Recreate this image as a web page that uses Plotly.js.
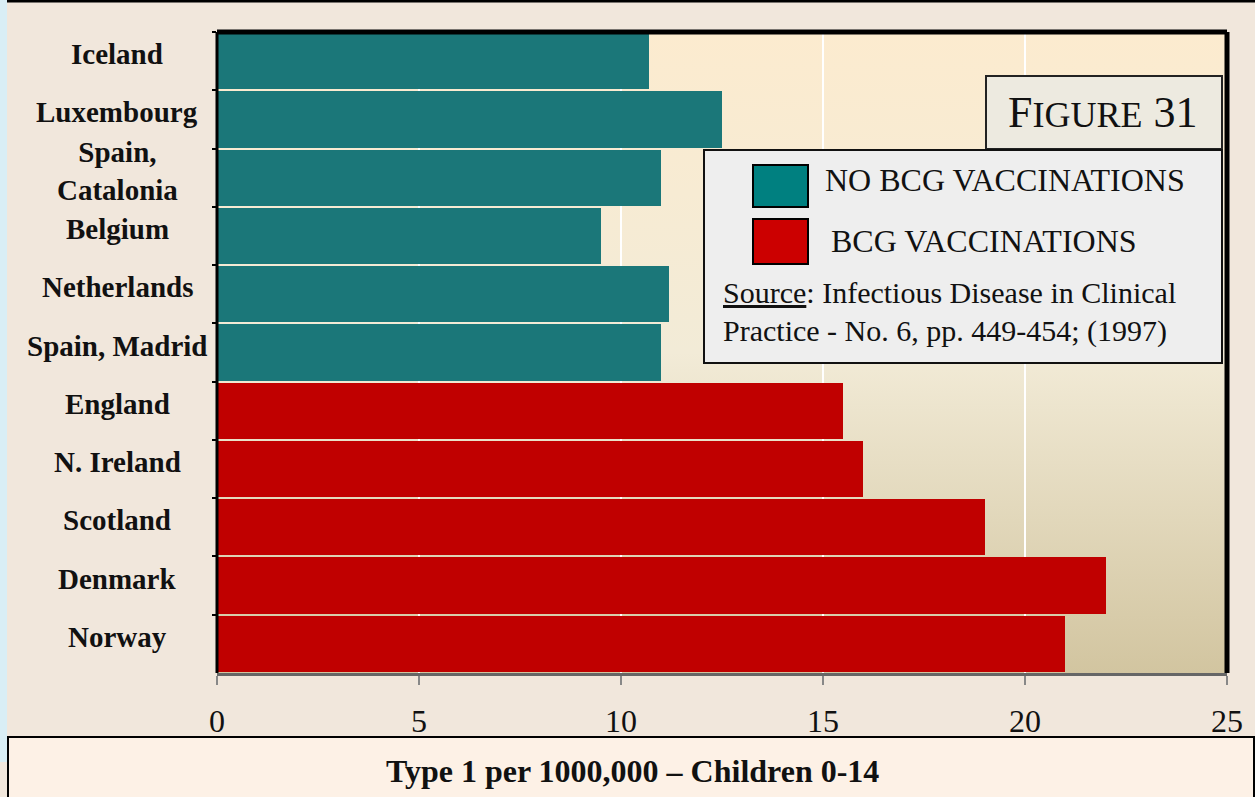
<!DOCTYPE html>
<html><head><meta charset="utf-8">
<script src="https://cdn.plot.ly/plotly-3.0.1.min.js"></script>
<style>html,body{margin:0;padding:0;background:#f1e7dc;overflow:hidden}</style>
</head><body><div id="chart" style="width:1255px;height:797px"></div>
<script>
// ---- data ----
const noBcgCountries = ['Iceland','Luxembourg','Spain, Catalonia','Belgium','Netherlands','Spain, Madrid'];
const noBcgValues = [10.7, 12.5, 11.0, 9.5, 11.2, 11.0];
const bcgCountries = ['England','N. Ireland','Scotland','Denmark','Norway'];
const bcgValues = [15.5, 16.0, 19.0, 22.0, 21.0];
const countryLabels = {'Spain, Catalonia': 'Spain,<br>Catalonia'};
const xTickValues = [0, 5, 10, 15, 20, 25];
const seriesNames = ['NO BCG VACCINATIONS', 'BCG VACCINATIONS'];
const axisTitle = 'Type 1 per 1000,000 – Children 0-14';
const figureLabel = ['F', 'IGURE', ' 31'];
const sourceLines = ['<u>Source</u>: Infectious Disease in Clinical', 'Practice - No. 6, pp. 449-454; (1997)'];

// ---- styling / geometry ----
const W = 1255, H = 797, L = 217, R = 28, T = 32, B = 124;
const PW = W - L - R, PH = H - T - B;
const px = x => (x - L) / PW;
const py = y => (H - B - y) / PH;
const FONT = 'Liberation Serif, Times New Roman, serif';
const barColors = ['#1b7779', '#c00000'];
const swatchColors = ['#008080', '#cc0000'];
const allCountries = noBcgCountries.concat(bcgCountries);

const traces = [
  {type: 'bar', orientation: 'h', name: seriesNames[0], y: noBcgCountries, x: noBcgValues,
   marker: {color: barColors[0], line: {width: 0}}, showlegend: false},
  {type: 'bar', orientation: 'h', name: seriesNames[1], y: bcgCountries, x: bcgValues,
   marker: {color: barColors[1], line: {width: 0}}, showlegend: false}
];

const grad = "<svg xmlns='http://www.w3.org/2000/svg' width='100' height='100' preserveAspectRatio='none'><defs><linearGradient id='g' x1='0' y1='0' x2='0' y2='1'><stop offset='0' stop-color='#fcebcf'/><stop offset='0.5' stop-color='#f2ebd7'/><stop offset='1' stop-color='#d2c5a0'/></linearGradient></defs><rect width='100' height='100' fill='url(#g)'/></svg>";

const shapes = [
  {type:'rect', xref:'paper', yref:'paper', x0:px(0), x1:px(7), y0:py(762), y1:py(0), fillcolor:'#d9eef5', line:{width:0}, layer:'below'},
  {type:'line', xref:'paper', yref:'paper', x0:px(7), x1:px(1255), y0:py(1), y1:py(1), line:{color:'#000', width:3}},
  {type:'rect', xref:'paper', yref:'paper', x0:px(8), x1:px(1254), y0:py(805), y1:py(737), fillcolor:'#fdf1e6', line:{color:'#000', width:2}},
  // plot frame
  {type:'line', xref:'paper', yref:'paper', x0:0, x1:1, y0:1, y1:1, line:{color:'#000', width:5}},
  {type:'line', xref:'paper', yref:'paper', x0:1, x1:1, y0:0, y1:1, line:{color:'#000', width:5}},
  {type:'line', xref:'paper', yref:'paper', x0:0, x1:0, y0:0, y1:1, line:{color:'#000', width:3}},
  // figure box & legend box
  {type:'rect', xref:'paper', yref:'paper', x0:px(986), x1:px(1222), y0:py(149), y1:py(76), fillcolor:'#edeae0', line:{color:'#222', width:2}},
  {type:'rect', xref:'paper', yref:'paper', x0:px(704), x1:px(1222), y0:py(363), y1:py(150), fillcolor:'#eeeeee', line:{color:'#111', width:2}},
  {type:'rect', xref:'paper', yref:'paper', x0:px(753), x1:px(808), y0:py(207), y1:py(165), fillcolor:swatchColors[0], line:{color:'#000', width:2}},
  {type:'rect', xref:'paper', yref:'paper', x0:px(753), x1:px(808), y0:py(264), y1:py(219), fillcolor:swatchColors[1], line:{color:'#000', width:2}}
];

const annotations = [];
allCountries.forEach(c => {
  annotations.push({xref:'paper', yref:'y', x:0, y:c, xshift:-100, yshift:7, xanchor:'center', yanchor:'middle',
    text:'<b>' + (countryLabels[c] || c) + '</b>', showarrow:false, font:{family:FONT, size:29, color:'#111'}});
});
annotations.push({xref:'paper', yref:'paper', x:px(1102), y:py(113), xanchor:'center', yanchor:'middle', showarrow:false,
  text: figureLabel[0] + "<span style='font-size:36px'>" + figureLabel[1] + '</span>' + figureLabel[2],
  font:{family:FONT, size:44, color:'#111'}});
annotations.push({xref:'paper', yref:'paper', x:px(823), y:py(180), xanchor:'left', yanchor:'middle', showarrow:false,
  text: seriesNames[0], font:{family:FONT, size:32, color:'#111'}});
annotations.push({xref:'paper', yref:'paper', x:px(829), y:py(241), xanchor:'left', yanchor:'middle', showarrow:false,
  text: seriesNames[1], font:{family:FONT, size:32, color:'#111'}});
annotations.push({xref:'paper', yref:'paper', x:px(721), y:py(293), xanchor:'left', yanchor:'middle', showarrow:false,
  text: sourceLines[0], font:{family:FONT, size:30, color:'#111'}});
annotations.push({xref:'paper', yref:'paper', x:px(721), y:py(331), xanchor:'left', yanchor:'middle', showarrow:false,
  text: sourceLines[1], font:{family:FONT, size:30, color:'#111'}});
annotations.push({xref:'paper', yref:'paper', x:px(632), y:py(771), xanchor:'center', yanchor:'middle', showarrow:false,
  text: '<b>' + axisTitle + '</b>', font:{family:FONT, size:32, color:'#111'}});

const layout = {
  width: W, height: H,
  margin: {l: L, r: R, t: T, b: B, pad: 0},
  paper_bgcolor: '#f1e7dc',
  plot_bgcolor: 'rgba(0,0,0,0)',
  barmode: 'stack',
  bargap: 0.035,
  showlegend: false,
  hovermode: false,
  font: {family: FONT, color: '#111'},
  xaxis: {
    range: [0, 25], tickvals: xTickValues, ticktext: xTickValues.map(String),
    showgrid: true, gridcolor: '#ffffff', gridwidth: 2, zeroline: false,
    showline: true, linecolor: '#666', linewidth: 3,
    ticks: 'outside', ticklen: 9, tickwidth: 2, tickcolor: '#888',
    ticklabelstandoff: 9,
    tickfont: {family: FONT, size: 32, color: '#111'},
    fixedrange: true
  },
  yaxis: {
    type: 'category', categoryorder: 'array', categoryarray: allCountries,
    autorange: 'reversed', showticklabels: false, showgrid: false, zeroline: false, showline: false,
    ticks: 'outside', tickson: 'boundaries', ticklen: 4, tickwidth: 2, tickcolor: '#000',
    fixedrange: true
  },
  images: [{source: 'data:image/svg+xml;charset=utf-8,' + encodeURIComponent(grad), xref: 'paper', yref: 'paper',
    x: 0, y: 1, sizex: 1, sizey: 1, sizing: 'stretch', xanchor: 'left', yanchor: 'top', layer: 'below'}],
  shapes: shapes,
  annotations: annotations
};

Plotly.newPlot('chart', traces, layout, {staticPlot: true, displayModeBar: false});
</script></body></html>
